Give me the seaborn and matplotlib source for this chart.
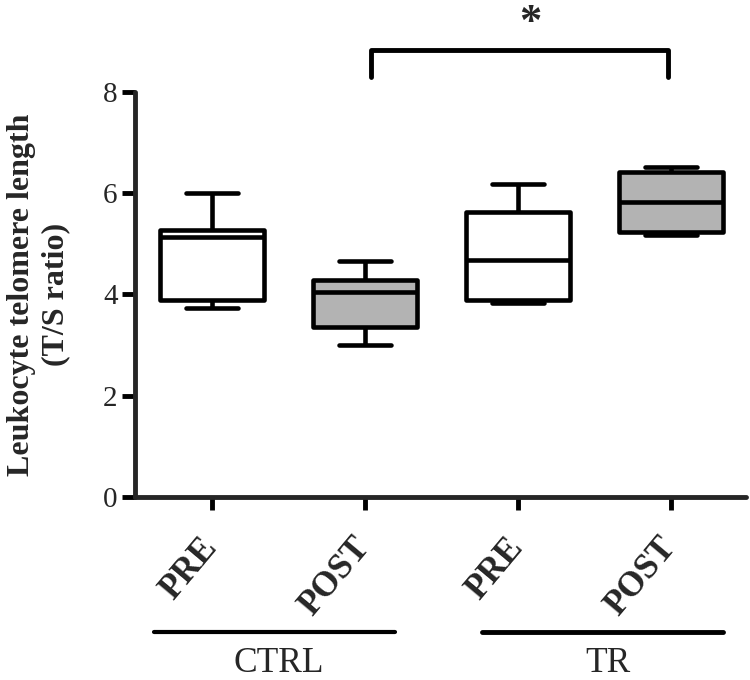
import pandas as pd
import matplotlib
matplotlib.use("Agg")
import matplotlib.pyplot as plt
import matplotlib.transforms as mtransforms
import seaborn as sns

# five-number summaries (min, q1, median, q3, max)
groups = ["CTRL PRE", "CTRL POST", "TR PRE", "TR POST"]
tick_labels = ["PRE", "POST", "PRE", "POST"]
ctrl_pre = [3.74, 3.90, 5.14, 5.28, 6.00]
ctrl_post = [3.01, 3.35, 4.05, 4.29, 4.66]
tr_pre = [3.83, 3.89, 4.68, 5.62, 6.18]
tr_post = [5.17, 5.24, 5.83, 6.42, 6.51]
fill_colors = ["white", "#b3b3b3", "white", "#b3b3b3"]

rows = []
for g, vals in zip(groups, [ctrl_pre, ctrl_post, tr_pre, tr_post]):
    for v in vals:
        rows.append({"group": g, "value": v})
df = pd.DataFrame(rows)

sns.set_style("ticks")
plt.rcParams["font.family"] = ["Liberation Serif", "DejaVu Serif"]

fig, ax = plt.subplots(figsize=(7.5, 6.8), dpi=100)
fig.subplots_adjust(left=0.18, right=0.995, bottom=0.269, top=0.865)

sns.boxplot(data=df, x="group", y="value", hue="group", order=groups,
            palette=fill_colors, legend=False, width=0.68, whis=(0, 100),
            linecolor="black", linewidth=3.3, fliersize=0, ax=ax,
            capprops=dict(solid_capstyle="round"),
            boxprops=dict(joinstyle="round"))

ax.set_ylim(0, 8)
ax.set_xlim(-0.5, 3.49)
ax.set_yticks([0, 2, 4, 6, 8])
ax.set_yticklabels(["0", "2", "4", "6", "8"], fontsize=21)
ax.set_xticks(range(4))
ax.set_xticklabels(tick_labels, rotation=50, ha="right", va="top",
                   rotation_mode="anchor", fontsize=25, fontweight="bold")
ax.set_xlabel("")
ax.set_ylabel("Leukocyte telomere length\n(T/S ratio)", fontsize=23,
              fontweight="bold", linespacing=1.25)
ax.yaxis.set_label_coords(-0.106, 0.5)

sns.despine(ax=ax)
for side in ["left", "bottom"]:
    ax.spines[side].set_linewidth(3.5)
    ax.spines[side].set_capstyle("round")
ax.tick_params(axis="both", width=3.5, length=9.5, color="black")
ax.tick_params(axis="y", pad=3)
ax.tick_params(axis="x", pad=15)

# nudge the slanted labels a little to the left
shift = mtransforms.ScaledTranslation(-13 / 100, 0, fig.dpi_scale_trans)
for lab in ax.get_xticklabels():
    lab.set_transform(lab.get_transform() + shift)

# significance bracket between the two POST groups
ax.plot([1.04, 1.04, 2.98, 2.98], [8.30, 8.83, 8.83, 8.30], color="black",
        lw=3.5, clip_on=False, solid_joinstyle="round")
ax.text(2.08, 9.35, "*", fontsize=32, fontweight="bold", ha="center",
        va="center", clip_on=False)

# group lines and names under the tick labels
trans = ax.get_xaxis_transform()
ax.plot([-0.378, 1.20], [-0.333, -0.333], color="black", lw=3,
        transform=trans, clip_on=False)
ax.plot([1.768, 3.34], [-0.333, -0.333], color="black", lw=3.5,
        transform=trans, clip_on=False)
ax.text(0.44, -0.432, "CTRL", fontsize=25.5, ha="center", va="baseline",
        transform=trans)
ax.text(2.59, -0.432, "TR", fontsize=25.5, ha="center", va="baseline",
        transform=trans)

fig.savefig("out.png", dpi=100)
